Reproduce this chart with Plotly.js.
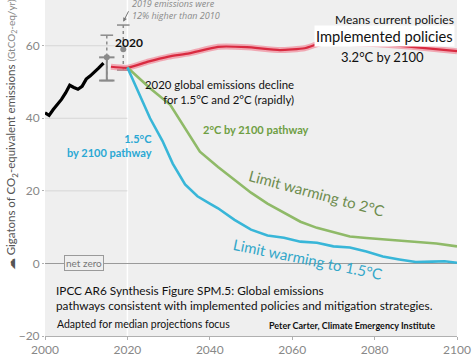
<!DOCTYPE html>
<html>
<head>
<meta charset="utf-8">
<script src="https://cdn.plot.ly/plotly-3.0.1.min.js"></script>
<style>
  html, body { margin: 0; padding: 0; background: #ffffff; }
  #chart { width: 474px; height: 356px; }
</style>
</head>
<body>
<div id="chart"></div>
<script>
// Historical emissions (GtCO2-eq/yr)
const histYears = [2000, 2001, 2002, 2003, 2004, 2005, 2006, 2007, 2008, 2009, 2010, 2011, 2012, 2013, 2014.2];
const histValues = [41.5, 40.8, 42.4, 43.8, 45.2, 47.0, 49.1, 48.5, 48.0, 48.8, 50.8, 51.7, 52.7, 53.8, 55.2];

// Implemented policies pathway (median)
const policyYears = [2016, 2020, 2025, 2030, 2035, 2042, 2049, 2057, 2063, 2068, 2073, 2081, 2089, 2100];
const policyValues = [54.2, 53.9, 55.6, 57.0, 57.9, 59.7, 59.6, 58.8, 59.3, 61.1, 60.8, 60.4, 59.7, 58.5];

// Limit warming to 2°C pathway (median)
const twoYears = [2020, 2025.5, 2030.4, 2032.5, 2034.4, 2037.6, 2042, 2046, 2050, 2054, 2058, 2062, 2066, 2070, 2074, 2078, 2082, 2086, 2090, 2095, 2100];
const twoValues = [54, 48.3, 43.7, 40.0, 36.3, 30.8, 26.6, 23.0, 19.5, 16.5, 14.0, 11.5, 9.8, 8.5, 7.4, 7.0, 6.6, 6.4, 6.0, 5.5, 4.7];

// Limit warming to 1.5°C pathway (median)
const onePointFiveYears = [2020, 2023, 2025.5, 2028.5, 2031, 2034, 2037, 2040, 2042, 2046, 2050, 2054, 2058, 2062, 2066, 2070, 2074, 2078, 2082, 2086, 2090, 2094, 2097, 2100];
const onePointFiveValues = [54, 46.5, 40.0, 33.8, 27.5, 21.8, 18.5, 16.5, 15.2, 12.0, 9.3, 7.7, 7.1, 6.0, 5.7, 4.7, 4.4, 3.3, 1.9, 1.1, 0.4, 0.5, 0.6, 0.2];

// Uncertainty ranges for 2015 and 2019 emissions
const rangeYears = [2015, 2019];
const rangeLow = [50.4, 53.3];
const rangeCentral = [56.8, 59.0];
const rangeHigh = [62.9, 65.7];

// Axis ticks
const xTicks = [2000, 2020, 2040, 2060, 2080, 2100];
const yTicks = [-20, 0, 20, 40, 60];
const yTickText = ['\u221220', '0', '20', '40', '60'];
const gridTicks = [20, 40, 60];

const grey = '#8a8a8a';
const green = '#8fba68';
const cyan = '#38b6d8';
const labelFont = 'Lato, "Open Sans", sans-serif';
const narrowFont = '"Liberation Sans Narrow", "Arial Narrow", Lato, sans-serif';

const traces = [];

// range bars: dotted full span with caps
rangeYears.forEach((yr, i) => {
  traces.push({
    x: [yr, yr], y: [rangeLow[i], rangeHigh[i]],
    mode: 'lines+markers', type: 'scatter', hoverinfo: 'skip',
    line: { color: grey, width: 1.5, dash: 'dot' },
    marker: { symbol: 'line-ew-open', size: 9, color: grey, line: { color: grey, width: 1.5 } }
  });
});
// solid lower part of the 2015 range
traces.push({
  x: [rangeYears[0], rangeYears[0]], y: [rangeLow[0], rangeCentral[0]],
  mode: 'lines+markers', type: 'scatter', hoverinfo: 'skip',
  line: { color: grey, width: 2 },
  marker: { symbol: 'line-ew-open', size: 11, color: grey, line: { color: grey, width: 2 } }
});
// central estimates
traces.push({
  x: rangeYears, y: rangeCentral, mode: 'markers', type: 'scatter', hoverinfo: 'skip',
  marker: { symbol: 'circle', size: 6, color: grey }
});

// historical
traces.push({
  x: histYears, y: histValues, mode: 'lines', type: 'scatter',
  line: { color: '#000000', width: 3.2 }
});

// implemented policies: soft halo plus core
traces.push({
  x: policyYears, y: policyValues, mode: 'lines', type: 'scatter',
  line: { color: 'rgba(240,110,130,0.55)', width: 6, shape: 'spline', smoothing: 0.5 }
});
traces.push({
  x: policyYears, y: policyValues, mode: 'lines', type: 'scatter',
  line: { color: '#d92a40', width: 2.2, shape: 'spline', smoothing: 0.5 }
});

// 2°C
traces.push({
  x: twoYears, y: twoValues, mode: 'lines', type: 'scatter',
  line: { color: green, width: 2.6 }
});
// 1.5°C
traces.push({
  x: onePointFiveYears, y: onePointFiveValues, mode: 'lines', type: 'scatter',
  line: { color: cyan, width: 2.6 }
});

const shapes = gridTicks.map(v => ({
  type: 'line', xref: 'x', yref: 'y', x0: 2000, x1: 2020, y0: v, y1: v,
  line: { color: '#d6d6d6', width: 1 }, layer: 'below'
}));
shapes.push({
  type: 'line', xref: 'x', yref: 'paper', x0: 2020, x1: 2020, y0: 0, y1: 1,
  line: { color: '#ffffff', width: 1.5 }, layer: 'below'
});

function note(text, x, y, opts) {
  return Object.assign({
    text: text, x: x, y: y, xref: 'x', yref: 'y', showarrow: false,
    font: { family: labelFont, size: 12, color: '#111' }
  }, opts || {});
}

const annotations = [
  note('Means current policies', 2099.8, 67.3, { xanchor: 'right', font: { family: labelFont, size: 12, color: '#111' } }),
  note('Implemented policies', 2099.4, 62.6, { xanchor: 'right', bgcolor: '#ffffff', borderpad: 1,
        font: { family: labelFont, size: 14.7, color: '#111' } }),
  note('3.2°C by 2100', 2092.4, 56.8, { xanchor: 'right', font: { family: labelFont, size: 13, color: '#111' } }),
  note('<b>2020</b>', 2020.3, 60.9, { font: { family: labelFont, size: 12, color: '#111' } }),
  note('2020 global emissions decline<br>for 1.5°C and 2°C (rapidly)', 2061.0, 47.3, {
        align: 'right', xanchor: 'right', font: { family: labelFont, size: 11.4, color: '#111' } }),
  note('<b>2°C by 2100 pathway</b>', 2037.9, 36.9, { xanchor: 'left', font: { family: labelFont, size: 11, color: '#6e9e43' } }),
  note('<b>1.5°C<br>by 2100 pathway</b>', 2026.5, 32.5, { xanchor: 'right', align: 'right',
        font: { family: labelFont, size: 11, color: '#2aa8d4' } }),
  note('Limit warming to 2°C', 2066, 19.5, { textangle: 15, font: { family: labelFont, size: 15, color: '#6d8c4e' } }),
  note('Limit warming to 1.5°C', 2063.8, 1.2, { textangle: 11.5, font: { family: labelFont, size: 15, color: '#33a7c9' } }),
  note('net zero', 2009.4, 0, { bordercolor: '#9a9a9a', borderwidth: 1, borderpad: 1, bgcolor: '#efefef',
        font: { family: narrowFont, size: 10, color: '#777' } }),
  note('IPCC AR6 Synthesis Figure SPM.5: Global emissions<br>pathways consistent with implemented policies and mitigation strategies.',
        2002.3, -9.6, { xanchor: 'left', align: 'left', font: { family: labelFont, size: 11.8, color: '#111' } }),
  note('Adapted for median projections focus', 2002.5, -16.7, { xanchor: 'left', font: { family: labelFont, size: 10.5, color: '#111' } }),
  note('<b>Peter Carter, Climate Emergency Institute</b>', 2053.8, -17.0, { xanchor: 'left', font: { family: labelFont, size: 9, color: '#111' } }),
  // note on 2019 emissions with pointer to the top of the 2019 range
  {
    text: '<i>2019 emissions were<br>12% higher than 2010</i>', xref: 'x', yref: 'paper', x: 2020.6, y: 1.014,
    xanchor: 'left', yanchor: 'top', align: 'left', showarrow: false,
    font: { family: '"Open Sans", Lato, sans-serif', size: 9, color: '#8a8a8a' }
  },
  {
    text: '', x: 2019, y: 66.6, xref: 'x', yref: 'y', showarrow: true, ax: 6, ay: -12,
    arrowhead: 2, arrowsize: 0.8, arrowwidth: 1, arrowcolor: '#777'
  },
  // axis title
  {
    text: '\u2601 Gigatons of CO<sub>2</sub>-equivalent emissions <span style="font-size:10px;color:#888">(GtCO<sub>2</sub>-eq/yr)</span>',
    xref: 'paper', yref: 'paper', x: -0.082, y: 0.598, textangle: -90, showarrow: false,
    xanchor: 'center', yanchor: 'middle',
    font: { family: narrowFont, size: 11.5, color: '#555' }
  }
];

const layout = {
  width: 474, height: 356,
  margin: { l: 45, r: 17, t: 0, b: 20 },
  paper_bgcolor: '#ffffff',
  plot_bgcolor: '#efefef',
  showlegend: false,
  xaxis: {
    range: [2000, 2100], tickvals: xTicks, showgrid: false, zeroline: false,
    showline: true, linecolor: '#b0b0b0', linewidth: 1,
    ticks: 'outside', ticklen: 3, tickcolor: '#b0b0b0',
    tickfont: { family: narrowFont, size: 12, color: '#888' }
  },
  yaxis: {
    range: [-20, 72.6], tickvals: yTicks, ticktext: yTickText, showgrid: false,
    zeroline: true, zerolinecolor: '#9a9a9a', zerolinewidth: 1.5,
    ticks: 'outside', ticklen: 2, tickcolor: '#b0b0b0',
    tickfont: { family: narrowFont, size: 12, color: '#888' }
  },
  shapes: shapes,
  annotations: annotations
};

Plotly.newPlot('chart', traces, layout, { displayModeBar: false, staticPlot: true });
</script>
</body>
</html>
